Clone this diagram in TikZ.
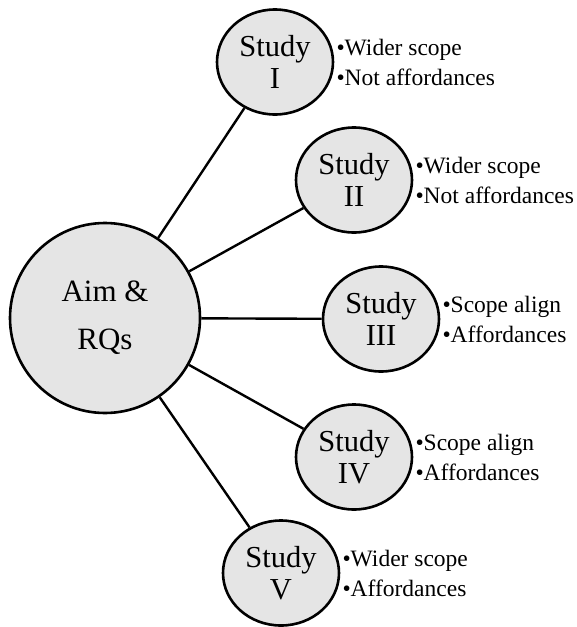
\documentclass[tikz,border=0pt]{standalone}
\usepackage{fontspec}
\setmainfont{Liberation Serif}
\usetikzlibrary{shapes.geometric}
\begin{document}
\begin{tikzpicture}[x=1pt,y=-1pt,
  hub/.style={circle,draw=black,line width=2.6pt,fill=black!10,minimum size=190pt,inner sep=0pt,align=center,font=\fontsize{31}{48}\selectfont},
  study/.style={ellipse,draw=black,line width=2.6pt,fill=black!10,minimum width=116pt,minimum height=105pt,inner sep=0pt,align=center,font=\fontsize{30.5}{32}\selectfont},
  notes/.style={anchor=west,inner sep=0pt,xshift=2pt,align=left,font=\fontsize{23.5}{30}\selectfont},
  link/.style={draw=black,line width=2.4pt}]
\useasboundingbox (0,0) rectangle (577,627);
\node[hub] (aim) at (105,318) {Aim \&\\RQs};
\node[study] (s1) at (275,62) {Study\\I};
\node[study] (s2) at (354,180) {Study\\II};
\node[study] (s3) at (381,319) {Study\\III};
\node[study] (s4) at (354,457) {Study\\IV};
\node[study] (s5) at (281,573) {Study\\V};
\draw[link] (aim) -- (s1);
\draw[link] (aim) -- (s2);
\draw[link] (aim) -- (s3);
\draw[link] (aim) -- (s4);
\draw[link] (aim) -- (s5);
\node[notes] (n1) at (s1.east) {•Wider scope\\•Not affordances};
\node[notes] (n2) at (s2.east) {•Wider scope\\•Not affordances};
\node[notes] (n3) at (s3.east) {•Scope align\\•Affordances};
\node[notes] (n4) at (s4.east) {•Scope align\\•Affordances};
\node[notes] (n5) at (s5.east) {•Wider scope\\•Affordances};
\end{tikzpicture}
\end{document}
